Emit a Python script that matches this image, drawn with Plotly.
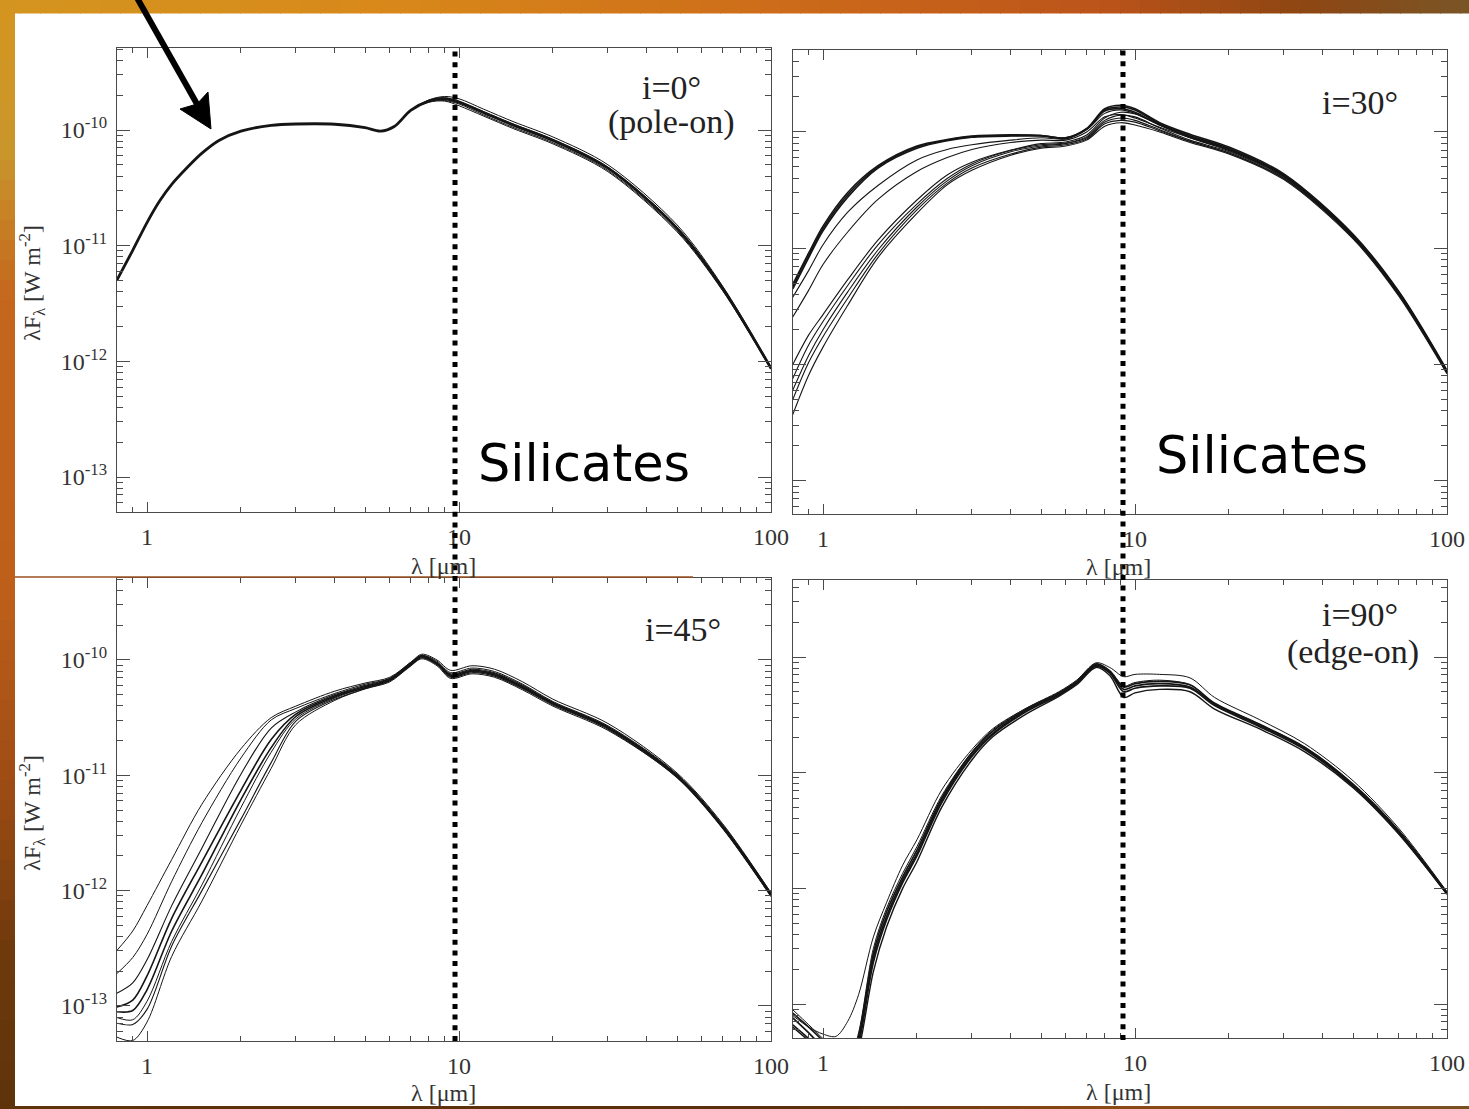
import plotly.graph_objects as go

W, H = 1469, 1109

# ---------------- data ----------------
# wavelength in micron, values are log10(lambda F_lambda / W m^-2)
wl_i0 = [0.8, 0.9, 1.0, 1.1, 1.2, 1.35, 1.5, 1.7, 2, 2.5, 3, 4, 5, 5.6, 6.2, 7,
         8, 9, 10, 12, 15, 20, 30, 50, 70, 100]
i0_m1 = [-11.30, -11.04, -10.80, -10.61, -10.47, -10.32, -10.20, -10.09, -10.01, -9.96, -9.948, -9.95, -9.98,
         -10.01, -9.97, -9.83, -9.75, -9.73, -9.76, -9.85, -9.96, -10.09, -10.33, -10.85, -11.37, -12.06]
i0_m2 = [-11.30, -11.04, -10.80, -10.61, -10.47, -10.32, -10.20, -10.09, -10.01, -9.96, -9.948, -9.95, -9.98,
         -10.01, -9.97, -9.83, -9.74, -9.71, -9.73, -9.82, -9.93, -10.06, -10.30, -10.82, -11.35, -12.05]
i0_m3 = [-11.30, -11.04, -10.80, -10.61, -10.47, -10.32, -10.20, -10.09, -10.01, -9.96, -9.948, -9.95, -9.98,
         -10.01, -9.97, -9.83, -9.76, -9.75, -9.79, -9.88, -9.99, -10.12, -10.36, -10.88, -11.39, -12.07]
i0_m4 = [-11.30, -11.04, -10.80, -10.61, -10.47, -10.32, -10.20, -10.09, -10.01, -9.96, -9.948, -9.95, -9.98,
         -10.01, -9.97, -9.83, -9.75, -9.745, -9.775, -9.87, -9.98, -10.11, -10.35, -10.87, -11.38, -12.065]
i0_m5 = [-11.30, -11.04, -10.80, -10.61, -10.47, -10.32, -10.20, -10.09, -10.01, -9.96, -9.948, -9.95, -9.98,
         -10.01, -9.97, -9.83, -9.745, -9.72, -9.75, -9.84, -9.95, -10.08, -10.32, -10.84, -11.36, -12.06]

wl_i30 = [0.8, 0.9, 1.0, 1.2, 1.5, 2, 2.5, 3, 4, 5, 6, 7, 8, 9, 10, 12, 15, 20, 30, 50, 70, 100]
i30_m1 = [-11.33, -11.06, -10.83, -10.54, -10.30, -10.13, -10.07, -10.04, -10.03, -10.03, -10.05, -9.97,
          -9.80, -9.77, -9.80, -9.92, -10.02, -10.13, -10.36, -10.88, -11.37, -12.05]
i30_m2 = [-11.35, -11.08, -10.85, -10.56, -10.31, -10.14, -10.075, -10.045, -10.035, -10.035, -10.055, -9.975,
          -9.81, -9.785, -9.81, -9.93, -10.03, -10.14, -10.37, -10.89, -11.38, -12.06]
i30_m3 = [-11.31, -11.04, -10.81, -10.52, -10.29, -10.12, -10.065, -10.035, -10.025, -10.03, -10.05, -9.975,
          -9.82, -9.80, -9.83, -9.94, -10.04, -10.15, -10.38, -10.90, -11.38, -12.06]
i30_m4 = [-11.42, -11.19, -10.97, -10.69, -10.46, -10.24, -10.15, -10.11, -10.07, -10.05, -10.06, -9.98,
          -9.84, -9.81, -9.84, -9.94, -10.04, -10.15, -10.38, -10.89, -11.38, -12.06]
i30_m5 = [-11.59, -11.36, -11.14, -10.86, -10.58, -10.34, -10.22, -10.15, -10.09, -10.07, -10.07, -10.00,
          -9.87, -9.85, -9.88, -9.96, -10.05, -10.16, -10.38, -10.89, -11.38, -12.06]
i30_m6 = [-12.00, -11.745, -11.57, -11.27, -10.93, -10.585, -10.37, -10.26, -10.155, -10.10, -10.086, -10.026,
          -9.88, -9.83, -9.845, -9.94, -10.05, -10.16, -10.38, -10.89, -11.38, -12.06]
i30_m7 = [-12.12, -11.83, -11.63, -11.32, -10.97, -10.62, -10.40, -10.275, -10.16, -10.11, -10.095, -10.04,
          -9.90, -9.855, -9.87, -9.965, -10.07, -10.17, -10.39, -10.90, -11.39, -12.07]
i30_m8 = [-12.22, -11.92, -11.70, -11.375, -11.015, -10.645, -10.42, -10.29, -10.17, -10.12, -10.10, -10.05,
          -9.915, -9.88, -9.90, -9.98, -10.08, -10.18, -10.40, -10.91, -11.40, -12.07]
i30_m9 = [-12.30, -11.98, -11.76, -11.43, -11.05, -10.67, -10.44, -10.31, -10.19, -10.13, -10.11, -10.06,
          -9.93, -9.90, -9.915, -9.99, -10.08, -10.18, -10.40, -10.91, -11.40, -12.07]
i30_m10 = [-12.43, -12.09, -11.85, -11.49, -11.08, -10.70, -10.455, -10.33, -10.20, -10.14, -10.12, -10.07,
           -9.95, -9.92, -9.94, -10.00, -10.09, -10.19, -10.41, -10.92, -11.41, -12.08]

wl_i45 = [0.8, 0.9, 1.0, 1.2, 1.5, 2, 2.5, 3, 4, 5, 6, 7, 7.6, 8.5, 9.4, 11, 13, 16, 20, 30, 50, 70, 100]
i45_m1 = [-12.52, -12.35, -12.13, -11.73, -11.25, -10.77, -10.50, -10.40, -10.27, -10.20, -10.15, -10.02, -9.95,
          -10.00, -10.09, -10.05, -10.08, -10.19, -10.34, -10.55, -10.98, -11.42, -12.02]
i45_m2 = [-12.72, -12.58, -12.38, -11.92, -11.41, -10.85, -10.52, -10.42, -10.29, -10.21, -10.16, -10.02, -9.96,
          -10.01, -10.11, -10.07, -10.10, -10.21, -10.36, -10.57, -10.99, -11.43, -12.02]
i45_m3 = [-12.89, -12.80, -12.60, -12.13, -11.63, -10.99, -10.59, -10.45, -10.30, -10.22, -10.16, -10.03, -9.96,
          -10.02, -10.12, -10.08, -10.11, -10.22, -10.37, -10.58, -11.00, -11.44, -12.03]
i45_m4 = [-13.01, -12.95, -12.74, -12.24, -11.75, -11.13, -10.69, -10.47, -10.31, -10.23, -10.17, -10.03, -9.97,
          -10.03, -10.13, -10.09, -10.12, -10.23, -10.37, -10.58, -11.00, -11.44, -12.03]
i45_m5 = [-13.05, -13.04, -12.86, -12.35, -11.86, -11.21, -10.76, -10.49, -10.32, -10.24, -10.17, -10.04, -9.97,
          -10.03, -10.14, -10.10, -10.13, -10.24, -10.38, -10.59, -11.01, -11.45, -12.04]
i45_m6 = [-13.10, -13.12, -12.96, -12.44, -11.95, -11.28, -10.80, -10.51, -10.33, -10.24, -10.18, -10.04, -9.98,
          -10.04, -10.14, -10.10, -10.13, -10.24, -10.38, -10.59, -11.01, -11.45, -12.04]
i45_m7 = [-13.15, -13.16, -13.03, -12.48, -12.00, -11.38, -10.89, -10.53, -10.34, -10.25, -10.18, -10.05, -9.98,
          -10.04, -10.15, -10.11, -10.14, -10.25, -10.39, -10.60, -11.02, -11.46, -12.05]
i45_m8 = [-13.27, -13.30, -13.14, -12.57, -12.09, -11.43, -10.94, -10.56, -10.35, -10.25, -10.19, -10.05, -9.99,
          -10.05, -10.16, -10.12, -10.15, -10.26, -10.40, -10.61, -11.02, -11.46, -12.05]

wl_i90 = [0.8, 0.9, 1.0, 1.1, 1.2, 1.3, 1.45, 1.6, 1.8, 2.0, 2.4, 3.0, 3.5, 4.5, 5.7, 6.5, 7.5, 8.3, 9.2, 10,
          12, 15, 18, 25, 35, 50, 70, 100]
i90_m1 = [-13.08, -13.20, -13.32, -13.45, -13.55, -13.28, -12.56, -12.20, -11.90, -11.67, -11.22, -10.83, -10.64,
          -10.45, -10.31, -10.21, -10.06, -10.12, -10.26, -10.23, -10.21, -10.24, -10.40, -10.58, -10.78, -11.10,
          -11.50, -12.04]
i90_m2 = [-13.12, -13.25, -13.38, -13.50, -13.60, -13.32, -12.60, -12.24, -11.93, -11.70, -11.24, -10.85, -10.66,
          -10.46, -10.32, -10.22, -10.07, -10.13, -10.28, -10.25, -10.23, -10.26, -10.41, -10.59, -10.79, -11.11,
          -11.51, -12.04]
i90_m3 = [-13.18, -13.30, -13.42, -13.55, -13.62, -13.35, -12.64, -12.27, -11.95, -11.72, -11.26, -10.86, -10.67,
          -10.47, -10.33, -10.23, -10.08, -10.14, -10.30, -10.27, -10.25, -10.27, -10.42, -10.60, -10.80, -11.12,
          -11.52, -12.05]
i90_m4 = [-13.20, -13.32, -13.45, -13.58, -13.65, -13.40, -12.72, -12.33, -12.00, -11.77, -11.30, -10.89, -10.69,
          -10.49, -10.34, -10.24, -10.09, -10.16, -10.35, -10.31, -10.28, -10.30, -10.45, -10.62, -10.82, -11.13,
          -11.53, -12.05]
i90_m5 = [-13.05, -13.18, -13.30, -13.42, -13.52, -13.25, -12.52, -12.17, -11.87, -11.64, -11.20, -10.82, -10.63,
          -10.44, -10.30, -10.20, -10.05, -10.09, -10.17, -10.15, -10.15, -10.18, -10.35, -10.54, -10.75, -11.07,
          -11.48, -12.03]
i90_m6 = [-13.10, -13.20, -13.26, -13.28, -13.15, -12.92, -12.42, -12.12, -11.80, -11.58, -11.15, -10.80, -10.62,
          -10.44, -10.31, -10.21, -10.06, -10.12, -10.25, -10.22, -10.20, -10.24, -10.40, -10.58, -10.78, -11.10,
          -11.50, -12.04]

x_tick_vals = [1, 10, 100]
x_tick_text = ["1", "10", "100"]
y_tick_vals = [1e-13, 1e-12, 1e-11, 1e-10]
y_tick_text = ["10<sup>-13</sup>", "10<sup>-12</sup>", "10<sup>-11</sup>", "10<sup>-10</sup>"]
panel_labels = [["i=0°", "(pole-on)"], ["i=30°"], ["i=45°"], ["i=90°", "(edge-on)"]]
feature_label = "Silicates"
x_title = "λ [μm]"
y_title = "λF<sub>λ</sub> [W m<sup>-2</sup>]"

# ---------------- helpers ----------------
def px(x):
    return x / W


def py(y):
    return 1 - y / H


serif = "Liberation Serif, Times New Roman, serif"
axc = "#4a4a4a"
minor_x = [0.8, 0.9, 2, 3, 4, 5, 6, 7, 8, 9, 20, 30, 40, 50, 60, 70, 80, 90]
minor_y = [k * 10.0 ** e for e in range(-14, -9) for k in range(2, 10)]

panels = [
    dict(xd=(117, 771), yd=(48, 512), yr=(-13.302, -9.291), ylab=True, wl=wl_i0,
         curves=[i0_m2, i0_m3, i0_m4, i0_m5, i0_m1], widths=[1.0, 1.0, 1.0, 1.0, 2.8]),
    dict(xd=(793, 1447), yd=(50, 514), yr=(-13.285, -9.295), ylab=False, wl=wl_i30,
         curves=[i30_m1, i30_m2, i30_m3, i30_m4, i30_m5, i30_m6, i30_m7, i30_m8, i30_m9, i30_m10],
         widths=[1.6, 1.6, 1.6, 1.1, 1.1, 1.1, 1.1, 1.1, 1.1, 1.1]),
    dict(xd=(117, 771), yd=(578, 1041), yr=(-13.304, -9.289), ylab=True, wl=wl_i45,
         curves=[i45_m1, i45_m2, i45_m3, i45_m4, i45_m5, i45_m6, i45_m7, i45_m8],
         widths=[1.0, 1.0, 1.1, 1.6, 1.6, 1.0, 1.1, 1.0]),
    dict(xd=(793, 1447), yd=(580, 1038), yr=(-13.294, -9.334), ylab=False, wl=wl_i90,
         curves=[i90_m1, i90_m2, i90_m3, i90_m4, i90_m5, i90_m6],
         widths=[1.7, 1.7, 1.7, 1.4, 1.0, 1.0]),
]

fig = go.Figure()
layout = {}
for k, p in enumerate(panels):
    n = "" if k == 0 else str(k + 1)
    for vals, w in zip(p["curves"], p["widths"]):
        fig.add_trace(go.Scatter(
            x=p["wl"], y=[10.0 ** v for v in vals], mode="lines",
            line=dict(color="#151515", width=w, shape="spline", smoothing=0.9),
            xaxis="x" + n, yaxis="y" + n, showlegend=False, hoverinfo="skip"))
    layout["xaxis" + n] = dict(
        type="log", range=[-0.0962, 2.0], domain=[px(p["xd"][0]), px(p["xd"][1])],
        anchor="y" + n, automargin=False, tickmode="array", tickvals=x_tick_vals, ticktext=x_tick_text,
        ticks="inside", ticklen=10, tickwidth=1, tickcolor=axc, showline=True, linecolor=axc,
        linewidth=1.3, mirror="allticks", showgrid=False, zeroline=False,
        tickfont=dict(family=serif, size=24, color="#333"), ticklabelstandoff=3,
        minor=dict(tickmode="array", tickvals=minor_x, ticks="inside", ticklen=5,
                   tickwidth=1, tickcolor=axc, showgrid=False))
    layout["yaxis" + n] = dict(
        type="log", range=list(p["yr"]), domain=[py(p["yd"][1]), py(p["yd"][0])],
        anchor="x" + n, automargin=False, tickmode="array", tickvals=y_tick_vals, ticktext=y_tick_text,
        ticks="inside", ticklen=13, tickwidth=1, tickcolor=axc, showline=True, linecolor=axc,
        linewidth=1.3, mirror="allticks", showgrid=False, zeroline=False,
        showticklabels=p["ylab"], tickfont=dict(family=serif, size=24, color="#333"),
        ticklabelstandoff=4,
        minor=dict(tickmode="array", tickvals=minor_y, ticks="inside", ticklen=6,
                   tickwidth=1, tickcolor=axc, showgrid=False))

# ---------------- slide background ----------------
def lerp_color(stops, t):
    for (t0, c0), (t1, c1) in zip(stops[:-1], stops[1:]):
        if t0 <= t <= t1:
            f = 0 if t1 == t0 else (t - t0) / (t1 - t0)
            a = [int(c0[i:i + 2], 16) for i in (1, 3, 5)]
            b = [int(c1[i:i + 2], 16) for i in (1, 3, 5)]
            return "rgb(%d,%d,%d)" % tuple(round(a[j] + (b[j] - a[j]) * f) for j in range(3))
    return stops[-1][1]


shapes = []
top_stops = [(0, "#d4951f"), (400, "#d8881a"), (800, "#cc6a1a"), (1100, "#bb541a"),
             (1300, "#8e4612"), (1469, "#7a5526")]
left_stops = [(0, "#d4951f"), (150, "#c9962c"), (300, "#c4661c"), (600, "#bd5f1a"),
              (800, "#9a4a14"), (950, "#6e3a0c"), (1109, "#5e330a")]
step = 20
for x0 in range(0, W, step):
    shapes.append(dict(type="rect", xref="paper", yref="paper", x0=px(x0), x1=px(min(W, x0 + step + 1)),
                       y0=py(13.5), y1=py(0), fillcolor=lerp_color(top_stops, x0 + step / 2),
                       line=dict(width=0), layer="below"))
for y0 in range(0, H, step):
    shapes.append(dict(type="rect", xref="paper", yref="paper", x0=px(0), x1=px(15),
                       y0=py(min(H, y0 + step + 1)), y1=py(y0), fillcolor=lerp_color(left_stops, y0 + step / 2),
                       line=dict(width=0), layer="below"))
bot_stops = [(0, "#5e330a"), (790, "#5a300c"), (1100, "#8a4a14"), (1469, "#7a5022")]
for x0 in range(0, W, step):
    shapes.append(dict(type="rect", xref="paper", yref="paper", x0=px(x0), x1=px(min(W, x0 + step + 1)),
                       y0=py(H), y1=py(1106), fillcolor=lerp_color(bot_stops, x0 + step / 2),
                       line=dict(width=0), layer="below"))
# seam between the two pasted images
shapes.append(dict(type="line", xref="paper", yref="paper", x0=px(15), x1=px(693), y0=py(577), y1=py(577),
                   line=dict(color="#9a5020", width=1.5), layer="above"))

# dotted silicate markers
for xv, ytop, ybot in [(455, 48, 1041), (1123, 50, 1040)]:
    shapes.append(dict(type="line", xref="paper", yref="paper", x0=px(xv), x1=px(xv), y0=py(ybot), y1=py(ytop),
                       line=dict(color="black", width=5, dash="5px,5.7px"), layer="above"))

# arrow
shapes.append(dict(type="line", xref="paper", yref="paper", x0=px(136), y0=py(-4), x1=px(197), y1=py(104),
                   line=dict(color="black", width=6), layer="above"))
tri = [(211, 129), (180, 109), (197, 104), (208, 92)]
path = "M " + " L ".join("%f,%f" % (px(a), py(b)) for a, b in tri) + " Z"
shapes.append(dict(type="path", xref="paper", yref="paper", path=path, fillcolor="black",
                   line=dict(color="black", width=1), layer="above"))

# ---------------- annotations ----------------
ann = []


def text(x, y, s, size, family=serif, color="#222", angle=0):
    ann.append(dict(x=px(x), y=py(y), xref="paper", yref="paper", text=s, showarrow=False,
                    font=dict(family=family, size=size, color=color), xanchor="center", yanchor="middle",
                    textangle=angle))


text(671, 87, panel_labels[0][0], 34)
text(671, 122, panel_labels[0][1], 34)
text(1360, 102, panel_labels[1][0], 34)
text(683, 630, panel_labels[2][0], 34)
text(1360, 615, panel_labels[3][0], 34)
text(1353, 652, panel_labels[3][1], 34)

comic = "Comic Sans MS, DejaVu Sans, sans-serif"
text(584, 464, feature_label, 51, family=comic, color="black")
text(1262, 455, feature_label, 51, family=comic, color="black")

text(443, 566, x_title, 24, color="#333")
text(1118, 567, x_title, 24, color="#333")
text(443, 1093, x_title, 24, color="#333")
text(1118, 1092, x_title, 24, color="#333")
text(32, 283, y_title, 24, color="#333", angle=-90)
text(32, 813, y_title, 24, color="#333", angle=-90)

fig.update_layout(
    width=W, height=H, autosize=False, margin=dict(l=0, r=0, t=0, b=0, pad=0, autoexpand=False),
    paper_bgcolor="white", plot_bgcolor="white", showlegend=False,
    shapes=shapes, annotations=ann, **layout)

fig.write_html(
    "out.html",
    config={"responsive": False, "displayModeBar": False},
    post_script="document.body.style.margin='0px';document.body.style.padding='0px';"
                "document.documentElement.style.overflow='hidden';",
)
